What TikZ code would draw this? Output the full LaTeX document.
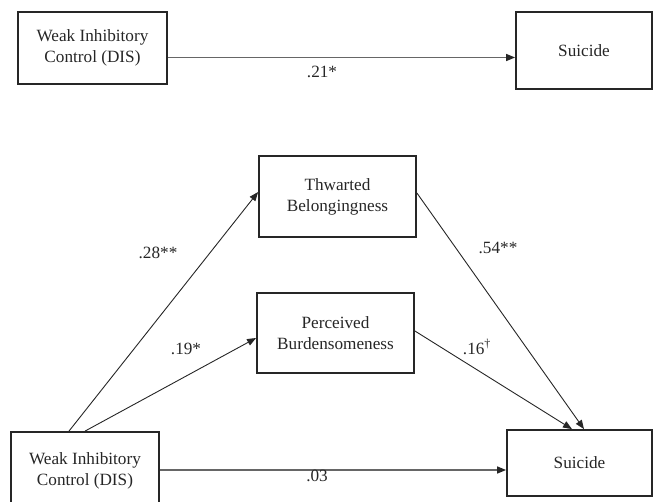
\documentclass[tikz,border=0pt]{standalone}
\usepackage{fontspec}
\setmainfont{Liberation Serif}
\usetikzlibrary{arrows.meta,calc}
\begin{document}
\begin{tikzpicture}[x=1pt,y=-1pt,
    every node/.style={font=\fontsize{17.2}{21}\selectfont,text=black!85},
    caja/.style={draw=black!85,line width=1.8pt,align=center,inner sep=0pt},
    flecha/.style={line width=0.9pt,draw=black!85,-{Triangle[length=9pt,width=7pt,color=black!85]}},
    flechah/.style={flecha,line width=1.4pt,draw=black!60}]
\useasboundingbox (0,0) rectangle (655,502);
    %Modelo directo
    \node[caja,minimum width=149pt,minimum height=72pt] (dis1) at (92.5,48) {Weak Inhibitory\\Control (DIS)};
    \node[caja,minimum width=136pt,minimum height=77pt] (sui1) at (584,50.5) {Suicide};
    \coordinate (a1) at ($(dis1.east)+(0,9.5)$);
    \draw[flechah] (a1) -- (a1 -| sui1.west);
    \node (c21) at (322,72) {.21*};

    %Modelo de mediacion
    \node[caja,minimum width=157pt,minimum height=81pt] (thw) at (337.5,196.5) {Thwarted\\Belongingness};
    \node[caja,minimum width=157pt,minimum height=80pt] (per) at (335.5,333) {Perceived\\Burdensomeness};
    \node[caja,minimum width=148pt,minimum height=78pt] (dis2) at (85,471) {Weak Inhibitory\\Control (DIS)};
    \node[caja,minimum width=145pt,minimum height=66pt] (sui2) at (579.5,463) {Suicide};

    %Flechas
    \draw[flecha] ($(dis2.north)+(-16,0)$) -- ($(thw.west)+(0,-4.5)$);
    \draw[flecha] (dis2.north) -- ($(per.west)+(0,5)$);
    \draw[flecha] ($(thw.east)+(0,-3.5)$) -- ($(sui2.north)+(4.5,0)$);
    \draw[flecha] ($(per.east)+(0,-2)$) -- ($(sui2.north)+(-7.5,0)$);
    \draw[flechah] ($(dis2.east)+(0,-1)$) -- ($(dis2.east -| sui2.west)+(0,-1)$);

    %Coeficientes
    \node (c28) at (158,253) {.28**};
    \node (c19) at (186,349) {.19*};
    \node (c54) at (498,248) {.54**};
    \node (c16) at (477,347) {.16\textsuperscript{†}};
    \node (c03) at (317,476) {.03};
\end{tikzpicture}
\end{document}
